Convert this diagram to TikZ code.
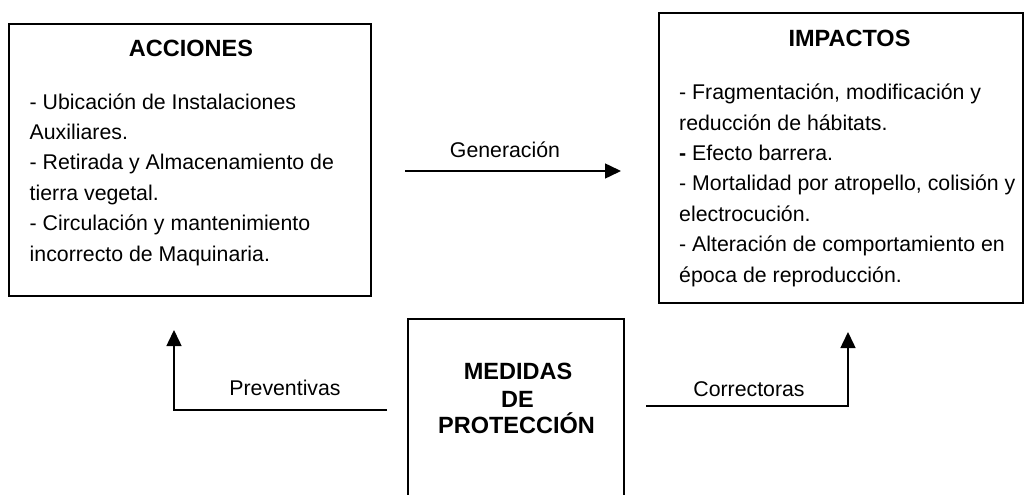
\documentclass[tikz,border=0pt]{standalone}
\usepackage{fontspec}
\setmainfont{Liberation Sans}
\usetikzlibrary{arrows.meta}
\begin{document}
\begin{tikzpicture}[x=1pt,y=-1pt,
  box/.style={draw,line width=1.6pt},
  txt/.style={font=\fontsize{21.3}{30.4}\selectfont,inner sep=0pt},
  ttl/.style={font=\fontsize{23.5}{27}\selectfont\bfseries,inner sep=0pt},
  conn/.style={line width=1.5pt,-{Triangle[length=16pt,width=15pt]}}]
\useasboundingbox (0,0) rectangle (1026,495);
% boxes
\draw[box] (9,24) rectangle (371,296);
\node[inner sep=0pt,minimum width=362pt,minimum height=272pt] (acc) at (190,160) {};
\draw[box] (659,13) rectangle (1023,303);
\node[inner sep=0pt,minimum width=364pt,minimum height=290pt] (imp) at (841,158) {};
\draw[box] (408,510) -- (408,319) -- (624,319) -- (624,510);
\node[inner sep=0pt,minimum width=216pt,minimum height=190pt] (med) at (516,414) {};
% titles
\node[ttl,anchor=base] at (191,57) {ACCIONES};
\node[ttl,anchor=base] at (849.5,47) {IMPACTOS};
\node[ttl,anchor=base] at (518,379) {MEDIDAS};
\node[ttl,anchor=base] at (517.5,407) {DE};
\node[ttl,anchor=base] at (516.5,433) {PROTECCIÓN};
% body texts (base anchor = last line's baseline)
\node[txt,anchor=base west,align=left] (acct) at (29.5,261) {- Ubicación de Instalaciones\\Auxiliares.\\- Retirada y Almacenamiento de\\tierra vegetal.\\- Circulación y mantenimiento\\incorrecto de Maquinaria.};
\node[txt,anchor=base west,align=left] (impt) at (679,282) {- Fragmentación, modificación y\\reducción de hábitats.\\\textbf{-} Efecto barrera.\\- Mortalidad por atropello, colisión y\\electrocución.\\- Alteración de comportamiento en\\época de reproducción.};
% connectors
\coordinate (g1) at (405,171);
\coordinate (g2) at (621,171);
\draw[conn] (g1) -- (g2);
\node[txt,anchor=base] at (505,157) {Generación};
\coordinate (p1) at (387,410);
\coordinate (p2) at (174,330);
\draw[conn] (p1) -| (p2);
\node[txt,anchor=base] at (285,395) {Preventivas};
\coordinate (c1) at (646,406);
\coordinate (c2) at (848,332);
\draw[conn] (c1) -| (c2);
\node[txt,anchor=base] at (749,396) {Correctoras};
\end{tikzpicture}
\end{document}
